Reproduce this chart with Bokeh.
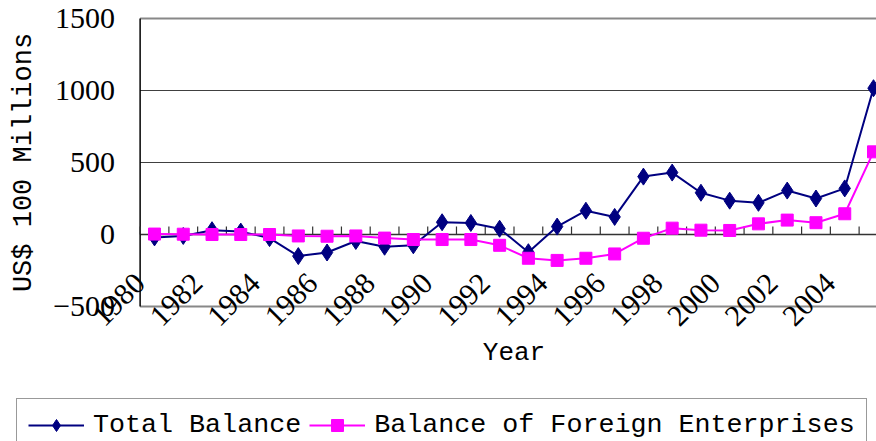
import math
from bokeh.plotting import figure
from bokeh.models import Range1d, Legend, LegendItem, Label, LabelSet, ColumnDataSource
from bokeh.embed import file_html
from bokeh.resources import INLINE

years = list(range(1980, 2006))
total_balance = [-20, -10, 30, 20, -25, -150, -125, -45, -85, -75, 85, 80, 40,
                 -123, 55, 165, 122, 402, 430, 290, 235, 220, 305, 250, 320, 1016]
foreign_balance = [3, 2, 0, 0, 0, -10, -12, -10, -25, -35, -35, -35, -75,
                   -165, -180, -165, -135, -26, 44, 30, 28, 74, 100, 82, 144, 574]
y_ticks = [-500, 0, 500, 1000, 1500]
y_tick_labels = ["\u2212500", "0", "500", "1000", "1500"]
label_years = list(range(1980, 2006, 2))

NAVY = "#000080"
MAGENTA = "#FF00FF"
SERIF = "Liberation Serif"
MONO = "Liberation Mono"

# layout constants (pixels, canvas = whole page)
FIG_W, FIG_H = 876, 441
PLOT_TOP, PLOT_BOTTOM = 18, 306   # y of top / bottom value lines
CAT_W = 28.76
FIRST_CAT = 154                   # x of first category centre

ppu = (PLOT_BOTTOM - PLOT_TOP) / (y_ticks[-1] - y_ticks[0])
y_end = y_ticks[-1] + PLOT_TOP / ppu
y_start = y_ticks[0] - (FIG_H - PLOT_BOTTOM) / ppu
x_start = years[0] - FIRST_CAT / CAT_W
x_end = years[0] + (FIG_W - FIRST_CAT) / CAT_W

p = figure(width=FIG_W, height=FIG_H, output_backend="svg", toolbar_location=None, title=None,
           x_range=Range1d(x_start, x_end), y_range=Range1d(y_start, y_end),
           x_axis_type=None, y_axis_type=None,
           min_border_left=0, min_border_right=0, min_border_top=0, min_border_bottom=0)
p.outline_line_color = None
p.xgrid.visible = False
p.ygrid.visible = False

cat_left = years[0] - 0.5
cat_right = years[-1] + 0.5

# gridlines and frame lines
grid_vals = y_ticks[2:-1]
p.segment(x0=[cat_left] * len(grid_vals), y0=grid_vals, x1=[x_end] * len(grid_vals), y1=grid_vals,
          line_color="#404040", line_width=1.2)
edge_vals = [y_ticks[0], y_ticks[-1]]
p.segment(x0=[cat_left] * 2, y0=edge_vals, x1=[x_end] * 2, y1=edge_vals,
          line_color="#888888", line_width=2)
p.segment(x0=[cat_left], y0=[0], x1=[x_end], y1=[0], line_color="#333333", line_width=1.5)

# left axis line
p.segment(x0=[cat_left], y0=[y_ticks[0]], x1=[cat_left], y1=[y_ticks[-1]],
          line_color="black", line_width=1.5)

# category boundary ticks on the zero line
boundaries = [y - 0.5 for y in years] + [cat_right]
p.ray(x=boundaries, y=[0] * len(boundaries), length=8, length_units="screen",
      angle=math.pi / 2, line_color="#333333", line_width=1.2)

# data
r1l = p.line(years, total_balance, line_color=NAVY, line_width=2)
r1m = p.scatter(years, total_balance, marker="diamond", size=17, fill_color=NAVY, line_color=NAVY)
r2l = p.line(years, foreign_balance, line_color=MAGENTA, line_width=2)
r2m = p.scatter(years, foreign_balance, marker="square", size=12, fill_color=MAGENTA, line_color=MAGENTA)

# y tick labels
ytl_src = ColumnDataSource(dict(y=y_ticks, text=y_tick_labels))
p.add_layout(LabelSet(x=cat_left, y="y", text="text", source=ytl_src, x_offset=-25,
                      text_align="right", text_baseline="middle",
                      text_font=SERIF, text_font_size="30px", text_color="black"))

# rotated year labels
lab_src = ColumnDataSource(dict(x=[y - 0.5 for y in label_years], text=[str(y) for y in label_years]))
p.add_layout(LabelSet(x="x", y=y_ticks[0], text="text", source=lab_src, y_offset=28,
                      angle=math.pi / 4, text_align="right", text_baseline="middle",
                      text_font=SERIF, text_font_size="30px", text_color="black"))

# axis titles
p.add_layout(Label(x=(cat_left + cat_right) / 2, y=y_ticks[0], y_offset=-46, text="Year",
                   text_align="center", text_baseline="middle",
                   text_font=MONO, text_font_size="26px", text_color="black"))
p.add_layout(Label(x=cat_left, y=(y_ticks[0] + y_ticks[-1]) / 2, x_offset=-116,
                   text="US$ 100 Millions", angle=math.pi / 2,
                   text_align="center", text_baseline="middle",
                   text_font=MONO, text_font_size="27px", text_color="black"))

legend = Legend(items=[LegendItem(label="Total Balance", renderers=[r1l, r1m]),
                       LegendItem(label="Balance of Foreign Enterprises", renderers=[r2l, r2m])],
                orientation="horizontal", location=(16, -11))
legend.label_text_font = MONO
legend.label_text_font_size = "26.7px"
legend.label_text_color = "black"
legend.glyph_width = 56
legend.glyph_height = 30
legend.label_height = 30
legend.label_standoff = 9
legend.spacing = 8
legend.padding = 11
legend.margin = 0
legend.border_line_color = "#333333"
legend.border_line_width = 1.5
legend.background_fill_alpha = 1
p.add_layout(legend, "center")

open("out.html", "w").write(file_html(p, INLINE))
